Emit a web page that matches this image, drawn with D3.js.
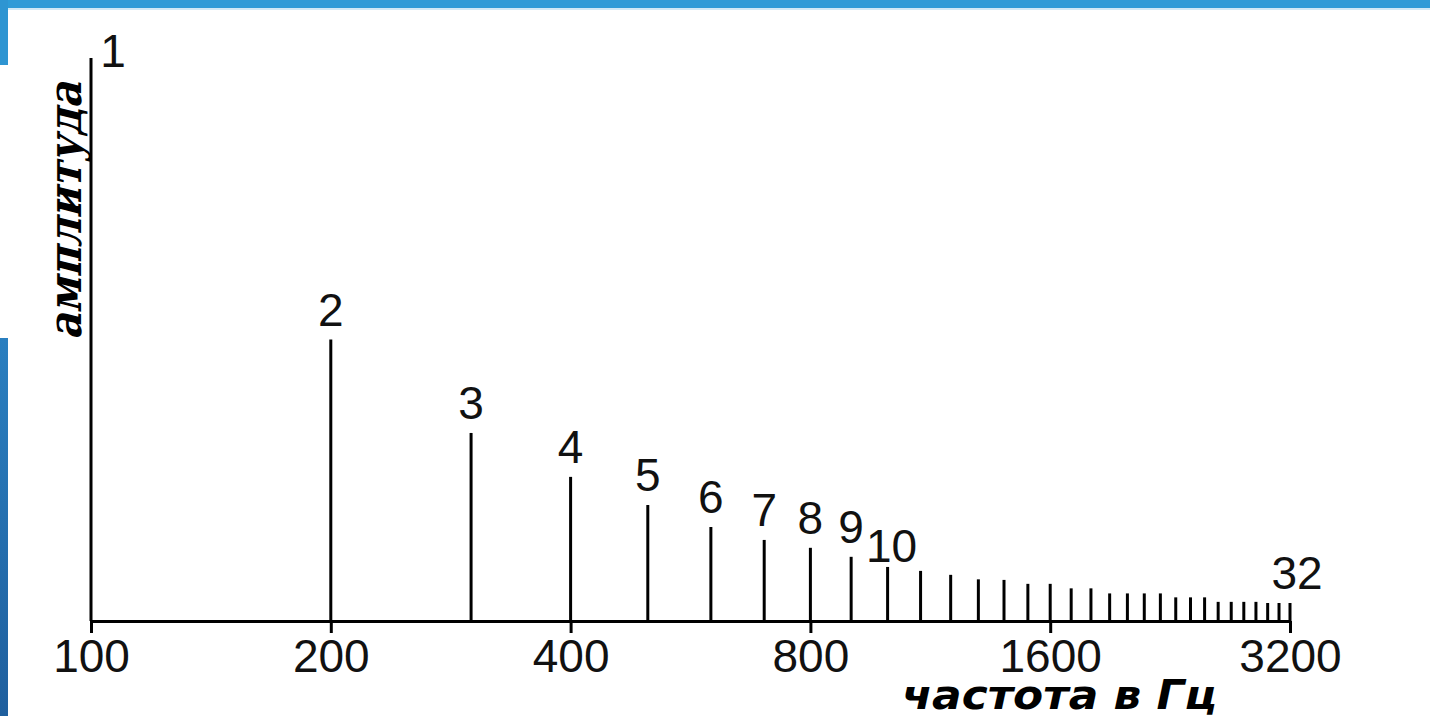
<!DOCTYPE html>
<html lang="ru">
<head>
    <meta charset="UTF-8">
    <title>Спектр гармоник</title>
    <script src="https://d3js.org/d3.v7.min.js"></script>
    <style>
        html, body { margin: 0; padding: 0; background: #fff; overflow: hidden; }
        svg { display: block; }
        .num { font-family: "Liberation Sans", Arial, sans-serif; font-size: 46px; fill: #111; }
    </style>
</head>
<body>
<div id="chart"></div>
<script>
// harmonic numbers and their frequency in Hz
const harmonics = d3.range(1, 33);
const frequencies = harmonics.map(n => n * 100);
// amplitudes (relative to the first harmonic)
const amplitudes = [1.0, 0.5, 0.334, 0.256, 0.206, 0.167, 0.144, 0.13, 0.114, 0.096,
    0.089, 0.082, 0.074, 0.073, 0.066, 0.066, 0.058, 0.058, 0.049, 0.049,
    0.049, 0.049, 0.042, 0.042, 0.042, 0.034, 0.034, 0.034, 0.034, 0.032,
    0.032, 0.032];
const tickValues = [100, 200, 400, 800, 1600, 3200];
const labelled = [1, 2, 3, 4, 5, 6, 7, 8, 9, 10, 32];

const width = 1430, height = 716;
const svg = d3.select("#chart").append("svg")
    .attr("width", width)
    .attr("height", height);

// frame of the slide
svg.append("rect").attr("x", 0).attr("y", 0).attr("width", width).attr("height", 8).attr("fill", "#2e9bd7");
svg.append("rect").attr("x", 0).attr("y", 0).attr("width", 8).attr("height", 65).attr("fill", "#2e95d2");
const grad = svg.append("defs").append("linearGradient")
    .attr("id", "side").attr("x1", 0).attr("y1", 0).attr("x2", 0).attr("y2", 1);
grad.append("stop").attr("offset", "0%").attr("stop-color", "#2a7fc0");
grad.append("stop").attr("offset", "100%").attr("stop-color", "#1f5f9e");
svg.append("rect").attr("x", 0).attr("y", 338).attr("width", 8).attr("height", height - 338).attr("fill", "url(#side)");
svg.append("rect").attr("x", 8).attr("y", 8).attr("width", width - 8).attr("height", 2).attr("fill", "#cfe9f6");

const x = d3.scaleLog().domain([100, 3200]).range([91, 1290]);
const y = d3.scaleLinear().domain([0, 1]).range([621, 58]);

// stems
svg.selectAll("line.stem")
    .data(harmonics)
    .enter()
    .append("line")
    .attr("class", "stem")
    .attr("x1", (d, i) => x(frequencies[i]))
    .attr("x2", (d, i) => x(frequencies[i]))
    .attr("y1", y(0))
    .attr("y2", (d, i) => y(amplitudes[i]))
    .attr("stroke", "#000")
    .attr("stroke-width", 3);

// x axis
const axis = svg.append("g")
    .attr("transform", "translate(0," + y(0) + ")")
    .call(d3.axisBottom(x)
        .tickValues(tickValues)
        .tickFormat(d3.format("d"))
        .tickSize(12)
        .tickSizeOuter(0)
        .tickPadding(6));
axis.select(".domain").attr("stroke", "#000").attr("stroke-width", 3);
axis.selectAll(".tick line").attr("stroke", "#000").attr("stroke-width", 3);
axis.selectAll(".tick text")
    .attr("class", "num")
    .attr("dy", null)
    .attr("y", 51)
    .style("font-size", "46px")
    .style("font-family", '"Liberation Sans", Arial, sans-serif')
    .attr("fill", "#111");

// harmonic numbers above the stems
svg.selectAll("text.hlabel")
    .data(labelled)
    .enter()
    .append("text")
    .attr("class", "num hlabel")
    .attr("text-anchor", "middle")
    .attr("x", d => {
        const px = x(frequencies[d - 1]);
        if (d === 1) return px + 22;
        if (d === 10) return px + 4;
        if (d === 32) return px + 7;
        return px;
    })
    .attr("y", d => {
        const top = y(amplitudes[d - 1]);
        if (d === 1) return top + 9;
        if (d === 10) return top - 5;
        return top - 14;
    })
    .text(d => d);

// axis titles (upright serif, slanted by hand so the cyrillic keeps print shapes)
svg.append("text")
    .attr("transform", "translate(81,211) rotate(-90) skewX(-14)")
    .attr("text-anchor", "middle")
    .attr("textLength", 258)
    .attr("lengthAdjust", "spacingAndGlyphs")
    .style("font-family", '"DejaVu Serif", "Liberation Serif", serif')
    .style("font-weight", "bold")
    .style("font-size", "46px")
    .attr("fill", "#000")
    .text("амплитуда");

svg.append("text")
    .attr("x", 902)
    .attr("y", 709)
    .attr("textLength", 315)
    .attr("lengthAdjust", "spacingAndGlyphs")
    .style("font-family", '"DejaVu Sans", sans-serif')
    .style("font-weight", "bold")
    .style("font-style", "italic")
    .style("font-size", "40px")
    .attr("fill", "#000")
    .text("частота в Гц");
</script>
</body>
</html>
